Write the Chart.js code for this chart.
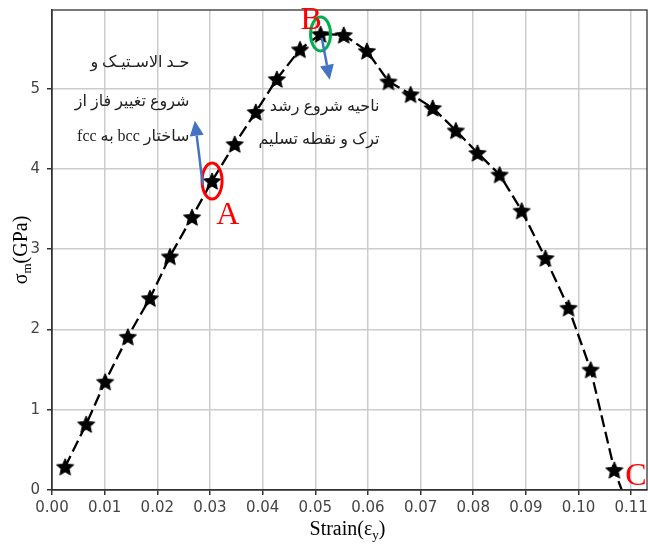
<!DOCTYPE html>
<html>
<head>
<meta charset="utf-8">
<script src="https://cdn.jsdelivr.net/npm/chart.js@4/dist/chart.umd.min.js"></script>
<style>
  html, body { margin: 0; padding: 0; background: #fff; }
  #wrap { width: 648px; height: 545px; }
</style>
</head>
<body>
<div id="wrap"><canvas id="c" width="648" height="545"></canvas></div>
<script>
// values
const strain = [0.0025, 0.0065, 0.0101, 0.0144, 0.0186, 0.0224, 0.0266, 0.0304, 0.0347, 0.0387,
                0.0427, 0.0471, 0.0510, 0.0554, 0.0598, 0.0639, 0.0681, 0.0723, 0.0767, 0.0808,
                0.0850, 0.0892, 0.0937, 0.0981, 0.1023, 0.1068, 0.1082];
const stress = [0.29, 0.82, 1.35, 1.91, 2.39, 2.91, 3.40, 3.85, 4.31, 4.71,
                5.12, 5.49, 5.68, 5.67, 5.47, 5.09, 4.93, 4.76, 4.48, 4.20,
                3.93, 3.48, 2.89, 2.27, 1.50, 0.25, 0.00];
const xTicks = { min: 0, max: 0.113, step: 0.01 };
const yTicks = { min: 0, max: 5.98, step: 1 };

const leftNote = ['حـد الاسـتیـک و', 'شروع تغییر فاز از', 'ساختار bcc به fcc'];
const rightNote = ['ناحیه شروع رشد', 'ترک و نقطه تسلیم'];

// filled five point star marker
function makeStar(r) {
    const cv = document.createElement('canvas');
    cv.width = cv.height = Math.ceil(r * 2 + 2);
    const g = cv.getContext('2d');
    g.translate(cv.width / 2, cv.height / 2 + r * 0.1);
    g.beginPath();
    for (let i = 0; i < 10; i++) {
        const rad = i % 2 === 0 ? r : r * 0.46;
        const a = -Math.PI / 2 + i * Math.PI / 5;
        g.lineTo(rad * Math.cos(a), rad * Math.sin(a));
    }
    g.closePath();
    g.fillStyle = '#000';
    g.fill();
    g.lineWidth = 1;
    g.strokeStyle = '#000';
    g.stroke();
    return cv;
}
const star = makeStar(9);

const points = strain.map((x, i) => ({ x: x, y: stress[i] }));
const radii = points.map((p, i) => i === points.length - 1 ? 0 : 9);

function arrow(ctx, x1, y1, x2, y2) {
    const a = Math.atan2(y2 - y1, x2 - x1);
    const hl = 15, hw = 7;
    const bx = x2 - hl * Math.cos(a), by = y2 - hl * Math.sin(a);
    ctx.strokeStyle = '#4472C4';
    ctx.fillStyle = '#4472C4';
    ctx.lineWidth = 2.5;
    ctx.beginPath(); ctx.moveTo(x1, y1); ctx.lineTo(bx, by); ctx.stroke();
    ctx.beginPath();
    ctx.moveTo(x2, y2);
    ctx.lineTo(bx + hw * Math.sin(a), by - hw * Math.cos(a));
    ctx.lineTo(bx - hw * Math.sin(a), by + hw * Math.cos(a));
    ctx.closePath(); ctx.fill();
}

const decor = {
    id: 'decor',
    afterDraw(chart) {
        const ctx = chart.ctx, xs = chart.scales.x, ys = chart.scales.y, area = chart.chartArea;
        const px = v => xs.getPixelForValue(v), py = v => ys.getPixelForValue(v);
        ctx.save();
        // frame on top and right
        ctx.strokeStyle = '#333'; ctx.lineWidth = 1.3;
        ctx.strokeRect(area.left, area.top, area.right - area.left, area.bottom - area.top);

        // ellipses round A and B
        ctx.lineWidth = 3;
        ctx.strokeStyle = '#ff0000';
        ctx.beginPath(); ctx.ellipse(px(strain[7]), py(stress[7]), 10, 18, 0, 0, Math.PI * 2); ctx.stroke();
        ctx.strokeStyle = '#00b050';
        ctx.beginPath(); ctx.ellipse(px(strain[12]), py(stress[12]), 10, 17, 0, 0, Math.PI * 2); ctx.stroke();

        arrow(ctx, px(0.02865), py(3.80), px(0.02713), py(4.60));
        arrow(ctx, px(0.05123), py(5.63), px(0.05275), py(5.11));

        ctx.fillStyle = '#ff0000';
        ctx.font = '32px "Liberation Serif"';
        ctx.textAlign = 'center'; ctx.textBaseline = 'middle';
        ctx.fillText('A', px(0.0334), py(3.42));
        ctx.fillText('B', px(0.0492), py(5.85));
        ctx.fillText('C', px(0.1109), py(0.17));

        // notes
        ctx.fillStyle = '#222';
        ctx.font = '16px "Liberation Serif", "DejaVu Sans"';
        ctx.direction = 'rtl';
        ctx.textAlign = 'right';
        const ly = [5.32, 4.84, 4.40];
        leftNote.forEach((t, i) => ctx.fillText(t, px(0.0261), py(ly[i])));
        const ry = [4.77, 4.36];
        rightNote.forEach((t, i) => ctx.fillText(t, px(0.0622), py(ry[i])));
        ctx.direction = 'ltr';

        // axis titles with subscripts
        ctx.fillStyle = '#000';
        ctx.textAlign = 'left'; ctx.textBaseline = 'alphabetic';
        const big = '20px "Liberation Serif"', small = '13px "Liberation Serif"';
        function sub(parts, x, y) {
            let w = 0;
            parts.forEach(p => { ctx.font = p[1] ? small : big; w += ctx.measureText(p[0]).width; });
            let cx = x - w / 2;
            parts.forEach(p => {
                ctx.font = p[1] ? small : big;
                ctx.fillText(p[0], cx, y + (p[1] ? 4 : 0));
                cx += ctx.measureText(p[0]).width;
            });
        }
        sub([['Strain(ε', 0], ['y', 1], [')', 0]], (area.left + area.right) / 2 - 2, 535);
        ctx.translate(27, (area.top + area.bottom) / 2);
        ctx.rotate(-Math.PI / 2);
        sub([['σ', 0], ['m', 1], ['(GPa)', 0]], 0, 0);
        ctx.restore();
    }
};

new Chart(document.getElementById('c'), {
    type: 'line',
    data: {
        datasets: [{
            data: points,
            borderColor: '#000',
            borderWidth: 2.3,
            borderDash: [12, 5],
            fill: false,
            tension: 0,
            pointStyle: star,
            pointRadius: radii,
            pointHoverRadius: radii
        }]
    },
    options: {
        responsive: false,
        animation: false,
        layout: { autoPadding: false, padding: { top: 10, right: 1, left: 0, bottom: 0 } },
        plugins: { legend: { display: false }, tooltip: { enabled: false } },
        scales: {
            x: {
                type: 'linear', min: xTicks.min, max: xTicks.max,
                afterFit: s => { s.height = 55; s.paddingRight = 0; s.paddingLeft = 0; },
                grid: { color: '#cccccc', lineWidth: 1.5, tickColor: '#333', tickLength: 5 },
                border: { color: '#333', width: 1.3 },
                ticks: {
                    stepSize: xTicks.step, includeBounds: false, autoSkip: false, maxRotation: 0,
                    color: '#444', font: { family: 'DejaVu Sans', size: 15 }, padding: 4,
                    callback: v => v.toFixed(2)
                }
            },
            y: {
                type: 'linear', min: yTicks.min, max: yTicks.max,
                afterFit: s => { s.width = 52; s.paddingTop = 0; s.paddingBottom = 0; },
                grid: { color: '#cccccc', lineWidth: 1.5, tickColor: '#333', tickLength: 5 },
                border: { color: '#333', width: 1.3 },
                ticks: {
                    stepSize: yTicks.step, includeBounds: false,
                    color: '#444', font: { family: 'DejaVu Sans', size: 15 }, padding: 7,
                    callback: v => v.toFixed(0)
                }
            }
        }
    },
    plugins: [decor]
});
</script>
</body>
</html>
